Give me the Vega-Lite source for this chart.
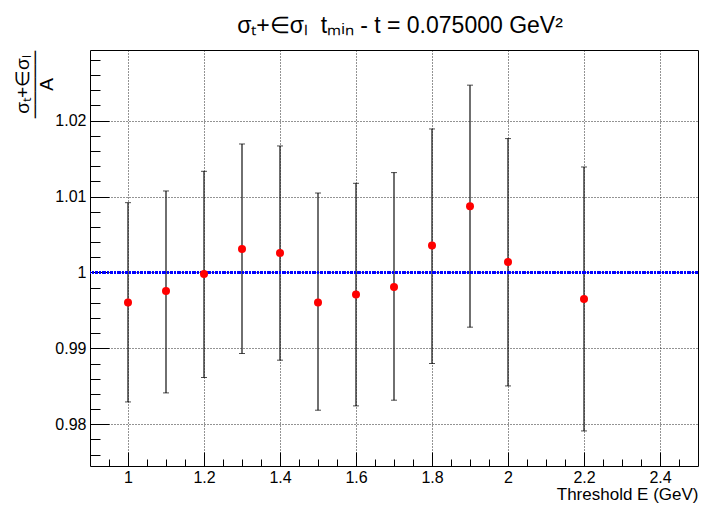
{
  "$schema": "https://vega.github.io/schema/vega-lite/v6.json",
  "autosize": "none",
  "width": 608,
  "height": 416,
  "padding": {"left": 90, "top": 50, "right": 4, "bottom": 39},
  "background": "white",
  "title": {
    "text": "σₜ+∈σₗ\u00a0\u00a0tₘᵢₙ - t = 0.075000 GeV²",
    "anchor": "middle",
    "frame": "group",
    "font": "Liberation Sans",
    "fontSize": 23,
    "fontWeight": "normal",
    "color": "#000000",
    "baseline": "alphabetic",
    "offset": -6,
    "dx": 6
  },
  "config": {
    "view": {"stroke": "#000000", "strokeWidth": 1},
    "axis": {
      "domain": false,
      "labelFont": "Liberation Sans",
      "labelFontSize": 16,
      "labelColor": "#000000",
      "titleFont": "Liberation Sans",
      "titleFontWeight": "normal",
      "titleColor": "#000000",
      "tickColor": "#000000",
      "tickWidth": 1,
      "gridColor": "#000000",
      "gridDash": [1, 2],
      "gridWidth": 1,
      "gridOpacity": 0.85
    }
  },
  "data": {
    "values": [
      {"E": 1.0, "ratio": 0.99605, "lo": 0.98294, "hi": 1.00919},
      {"E": 1.1, "ratio": 0.99754, "lo": 0.98413, "hi": 1.01073},
      {"E": 1.2, "ratio": 0.99978, "lo": 0.98616, "hi": 1.01332},
      {"E": 1.3, "ratio": 1.00308, "lo": 0.98932, "hi": 1.01692},
      {"E": 1.4, "ratio": 1.00255, "lo": 0.98844, "hi": 1.01666},
      {"E": 1.5, "ratio": 0.99605, "lo": 0.98185, "hi": 1.01046},
      {"E": 1.6, "ratio": 0.99710, "lo": 0.98242, "hi": 1.01174},
      {"E": 1.7, "ratio": 0.99807, "lo": 0.98317, "hi": 1.01315},
      {"E": 1.8, "ratio": 1.00356, "lo": 0.98800, "hi": 1.01890},
      {"E": 1.9, "ratio": 1.00871, "lo": 0.99279, "hi": 1.02467},
      {"E": 2.0, "ratio": 1.00137, "lo": 0.98505, "hi": 1.01763},
      {"E": 2.2, "ratio": 0.99649, "lo": 0.97912, "hi": 1.01389}
    ]
  },
  "resolve": {"axis": {"x": "independent", "y": "independent"}},
  "layer": [
    {
      "description": "error bars; also carries the long inward major ticks",
      "mark": {"type": "rule", "color": "#222222", "strokeWidth": 1.3},
      "encoding": {
        "x": {
          "field": "E", "type": "quantitative",
          "scale": {"domain": [0.9, 2.5], "nice": false, "zero": false},
          "axis": {"orient": "bottom", "values": [1, 1.2, 1.4, 1.6, 1.8, 2, 2.2, 2.4], "tickSize": -14, "labels": false, "grid": false, "title": null}
        },
        "y": {
          "field": "lo", "type": "quantitative",
          "scale": {"domain": [0.9745, 1.0293], "nice": false, "zero": false},
          "axis": {"orient": "left", "values": [0.98, 0.99, 1, 1.01, 1.02], "tickSize": -19, "labels": false, "grid": false, "title": null}
        },
        "y2": {"field": "hi"}
      }
    },
    {
      "description": "lower caps; also carries the short minor ticks",
      "mark": {"type": "tick", "orient": "horizontal", "color": "#000000", "size": 6, "thickness": 1},
      "encoding": {
        "x": {
          "field": "E", "type": "quantitative",
          "scale": {"domain": [0.9, 2.5], "nice": false, "zero": false},
          "axis": {"orient": "bottom", "values": [0.95, 1, 1.05, 1.1, 1.15, 1.2, 1.25, 1.3, 1.35, 1.4, 1.45, 1.5, 1.55, 1.6, 1.65, 1.7, 1.75, 1.8, 1.85, 1.9, 1.95, 2, 2.05, 2.1, 2.15, 2.2, 2.25, 2.3, 2.35, 2.4, 2.45], "tickSize": -7, "labels": false, "grid": false, "title": null}
        },
        "y": {
          "field": "lo", "type": "quantitative",
          "scale": {"domain": [0.9745, 1.0293], "nice": false, "zero": false},
          "axis": {"orient": "left", "values": [0.976, 0.978, 0.98, 0.982, 0.984, 0.986, 0.988, 0.99, 0.992, 0.994, 0.996, 0.998, 1, 1.002, 1.004, 1.006, 1.008, 1.01, 1.012, 1.014, 1.016, 1.018, 1.02, 1.022, 1.024, 1.026, 1.028], "tickSize": -10, "labels": false, "grid": false, "title": null}
        }
      }
    },
    {
      "description": "upper caps",
      "mark": {"type": "tick", "orient": "horizontal", "color": "#000000", "size": 6, "thickness": 1},
      "encoding": {
        "x": {"field": "E", "type": "quantitative", "scale": {"domain": [0.9, 2.5], "nice": false, "zero": false}, "axis": null},
        "y": {"field": "hi", "type": "quantitative", "scale": {"domain": [0.9745, 1.0293], "nice": false, "zero": false}, "axis": null}
      }
    },
    {
      "description": "reference line at unity",
      "mark": {"type": "rule", "color": "#0000ff", "strokeWidth": 2, "strokeDash": [3, 1.5, 1.5, 1.5]},
      "encoding": {
        "y": {"datum": 1, "type": "quantitative", "scale": {"domain": [0.9745, 1.0293], "nice": false, "zero": false}, "axis": null}
      }
    },
    {
      "description": "measured ratio; carries labels, grid and titles",
      "mark": {"type": "point", "shape": "circle", "filled": true, "color": "#ff0000", "size": 64, "opacity": 1},
      "encoding": {
        "x": {
          "field": "E", "type": "quantitative",
          "scale": {"domain": [0.9, 2.5], "nice": false, "zero": false},
          "axis": {
            "orient": "bottom", "values": [1, 1.2, 1.4, 1.6, 1.8, 2, 2.2, 2.4], "format": "~g",
            "ticks": false, "labelPadding": 3, "grid": true,
            "title": "Threshold E (GeV)", "titleFontSize": 17,
            "titleAnchor": "end", "titleAlign": "right", "titleBaseline": "alphabetic",
            "titleX": 608, "titleY": 33
          }
        },
        "y": {
          "field": "ratio", "type": "quantitative",
          "scale": {"domain": [0.9745, 1.0293], "nice": false, "zero": false},
          "axis": {
            "orient": "left", "values": [0.98, 0.99, 1, 1.01, 1.02], "format": "~g",
            "ticks": false, "labelPadding": 4, "grid": true,
            "title": ["σₜ+∈σₗ", "─────", "A"], "titleFontSize": 19, "titleLineHeight": 12,
            "titleAngle": -90, "titleAlign": "center", "titleBaseline": "middle",
            "titleX": -68, "titleY": 34
          }
        }
      }
    }
  ]
}
